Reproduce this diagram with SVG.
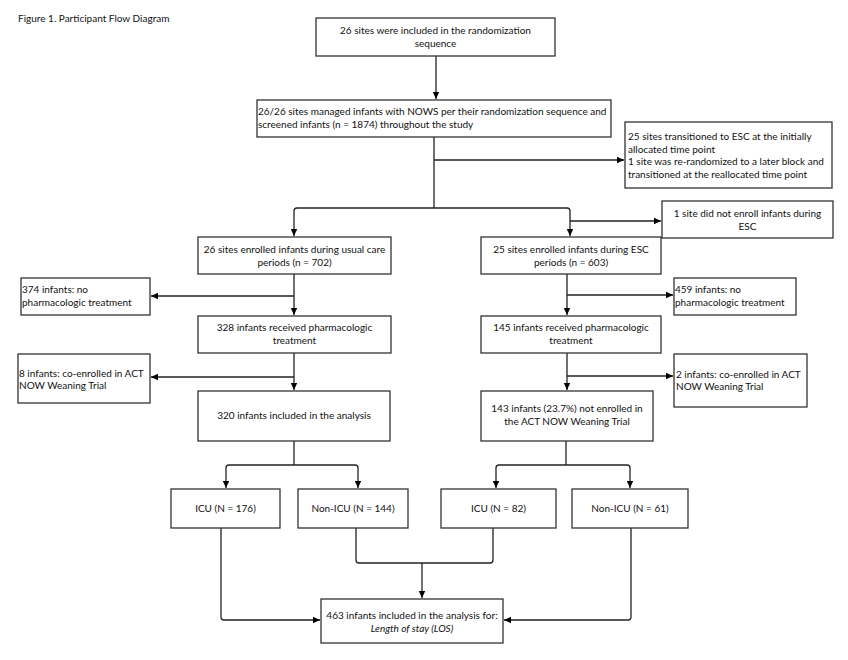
<svg xmlns="http://www.w3.org/2000/svg" width="848" height="660" viewBox="0 0 848 660">
<defs>
<marker id="ah" markerWidth="8" markerHeight="8" refX="7" refY="4" orient="auto" markerUnits="userSpaceOnUse">
<path d="M0,0.8 L7,4 L0,7.2 Z" fill="#000"/>
</marker>
</defs>
<style>
.b{fill:#fff;stroke:#333;stroke-width:1.3}
.t{font-family:Lato,"Open Sans","Liberation Sans",sans-serif;font-size:10px;fill:#111}
.c{text-anchor:middle}
.l{fill:none;stroke:#222;stroke-width:1.3}
.a{marker-end:url(#ah)}
</style>
<rect width="848" height="660" fill="#fff"/>
<text class="t" x="18" y="22" font-size="9.7">Figure 1. Participant Flow Diagram</text>

<g id="connectors">
<path class="l a" d="M436,56 V99"/>
<path class="l" d="M434,137 V208"/>
<path class="l a" d="M434,160 H624"/>
<path class="l a" d="M434,208 H297 Q294,208 294,211 V236"/>
<path class="l a" d="M434,208 H567 Q570,208 570,211 V236"/>
<path class="l a" d="M570,221 H661"/>
<path class="l a" d="M294,274 V315"/>
<path class="l a" d="M294,296 H151"/>
<path class="l a" d="M294,353 V390"/>
<path class="l a" d="M294,377 H151"/>
<path class="l a" d="M567,274 V315"/>
<path class="l a" d="M567,295 H673"/>
<path class="l a" d="M567,353 V390"/>
<path class="l a" d="M567,376 H673"/>
<path class="l" d="M294,441 V465"/>
<path class="l a" d="M294,465 H229 Q226,465 226,468 V488"/>
<path class="l a" d="M294,465 H355 Q358,465 358,468 V488"/>
<path class="l" d="M566,441 V465"/>
<path class="l a" d="M566,465 H499 Q496,465 496,468 V488"/>
<path class="l a" d="M566,465 H627 Q630,465 630,468 V488"/>
<path class="l a" d="M221,528 V617 Q221,620 224,620 H320"/>
<path class="l" d="M356,528 V560 Q356,563 359,563 H490 Q493,563 493,560 V528"/>
<path class="l a" d="M422,563 V598"/>
<path class="l a" d="M631,528 V617 Q631,620 628,620 H504"/>
</g>

<g id="n1"><rect class="b" x="316" y="18" width="239" height="38"/>
<text class="t c" x="435.5" y="33.5">26 sites were included in the randomization</text>
<text class="t c" x="435.5" y="46.5">sequence</text></g>

<g id="n2"><rect class="b" x="257" y="100" width="354" height="37"/>
<text class="t" x="258" y="115">26/26 sites managed infants with NOWS per their randomization sequence and</text>
<text class="t" x="258" y="128">screened infants (n = 1874) throughout the study</text></g>

<g id="n3"><rect class="b" x="625" y="122" width="207" height="66"/>
<text class="t" x="628" y="140">25 sites transitioned to ESC at the initially</text>
<text class="t" x="628" y="152.5">allocated time point</text>
<text class="t" x="628" y="165">1 site was re-randomized to a later block and</text>
<text class="t" x="628" y="177.5">transitioned at the reallocated time point</text></g>

<g id="n4"><rect class="b" x="662" y="201" width="171" height="37"/>
<text class="t c" x="747.5" y="217">1 site did not enroll infants during</text>
<text class="t c" x="747.5" y="229.5">ESC</text></g>

<g id="n5"><rect class="b" x="198" y="237" width="193" height="37"/>
<text class="t c" x="294.5" y="253">26 sites enrolled infants during usual care</text>
<text class="t c" x="294.5" y="265.5">periods (n = 702)</text></g>

<g id="n6"><rect class="b" x="481" y="237" width="180" height="37"/>
<text class="t c" x="571" y="253">25 sites enrolled infants during ESC</text>
<text class="t c" x="571" y="265.5">periods (n = 603)</text></g>

<g id="n7"><rect class="b" x="21" y="278" width="129" height="37"/>
<text class="t" x="22" y="293">374 infants: no</text>
<text class="t" x="22" y="305.5">pharmacologic treatment</text></g>

<g id="n8"><rect class="b" x="674" y="278" width="122" height="37"/>
<text class="t" x="675" y="293">459 infants: no</text>
<text class="t" x="675" y="305.5">pharmacologic treatment</text></g>

<g id="n9"><rect class="b" x="198" y="316" width="193" height="37"/>
<text class="t c" x="294.5" y="331">328 infants received pharmacologic</text>
<text class="t c" x="294.5" y="343.5">treatment</text></g>

<g id="n10"><rect class="b" x="481" y="316" width="180" height="37"/>
<text class="t c" x="571" y="331">145 infants received pharmacologic</text>
<text class="t c" x="571" y="343.5">treatment</text></g>

<g id="n11"><rect class="b" x="18" y="354" width="132" height="49"/>
<text class="t" x="19" y="377">8 infants: co-enrolled in ACT</text>
<text class="t" x="19" y="389">NOW Weaning Trial</text></g>

<g id="n12"><rect class="b" x="674" y="354" width="133" height="53"/>
<text class="t" x="676" y="378">2 infants: co-enrolled in ACT</text>
<text class="t" x="676" y="390">NOW Weaning Trial</text></g>

<g id="n13"><rect class="b" x="198" y="391" width="192" height="50"/>
<text class="t c" x="294" y="418.5">320 infants included in the analysis</text></g>

<g id="n14"><rect class="b" x="481" y="391" width="172" height="50"/>
<text class="t c" x="567" y="412">143 infants (23.7%) not enrolled in</text>
<text class="t c" x="567" y="424.5">the ACT NOW Weaning Trial</text></g>

<g id="n15"><rect class="b" x="171" y="489" width="109" height="39"/>
<text class="t c" x="225.5" y="512">ICU (N = 176)</text></g>

<g id="n16"><rect class="b" x="298" y="489" width="110" height="39"/>
<text class="t c" x="353" y="512">Non-ICU (N = 144)</text></g>

<g id="n17"><rect class="b" x="441" y="489" width="115" height="39"/>
<text class="t c" x="498.5" y="512">ICU (N = 82)</text></g>

<g id="n18"><rect class="b" x="572" y="489" width="116" height="39"/>
<text class="t c" x="630" y="512">Non-ICU (N = 61)</text></g>

<g id="n19"><rect class="b" x="321" y="599" width="182" height="44"/>
<text class="t c" x="412" y="618.5">463 infants included in the analysis for:</text>
<text class="t c" x="412" y="632" font-style="italic">Length of stay (LOS)</text></g>
</svg>
